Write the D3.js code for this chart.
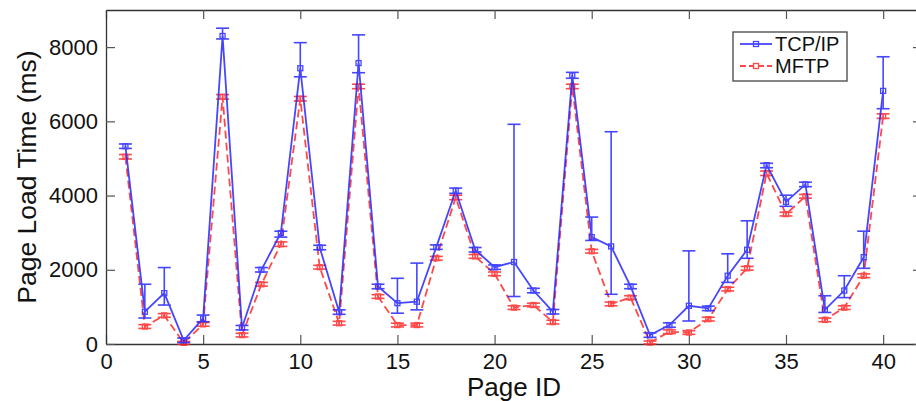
<!DOCTYPE html>
<html>
<head>
<meta charset="utf-8">
<script src="https://cdn.jsdelivr.net/npm/d3@7"></script>
<style>
  body { margin: 0; background: #fff; }
  svg { display: block; font-family: "Liberation Sans", Arial, Helvetica, sans-serif; }
  .axis path { stroke: #333; stroke-width: 1.3; }
  .axis line { stroke: #555; stroke-width: 1.2; }
  .axis text { font-size: 22px; fill: #111; }
</style>
</head>
<body>
<svg id="chart" width="916" height="401"></svg>
<script>
// page ids on the x axis
const pageIds = [1, 2, 3, 4, 5, 6, 7, 8, 9, 10, 11, 12, 13, 14, 15, 16, 17, 18, 19, 20,
  21, 22, 23, 24, 25, 26, 27, 28, 29, 30, 31, 32, 33, 34, 35, 36, 37, 38, 39, 40];

// TCP/IP mean load time and error bar range (ms)
const tcp = [5330, 870, 1370, 100, 690, 8300, 440, 2000, 2990, 7430, 2600, 860, 7570, 1550, 1100, 1140, 2610, 4130, 2540, 2070,
  2210, 1440, 870, 7240, 2880, 2630, 1550, 240, 510, 1030, 960, 1840, 2540, 4820, 3830, 4300, 920, 1440, 2340, 6820];
const tcpLo = [5270, 700, 1050, 40, 600, 8220, 380, 1940, 2880, 7200, 2540, 800, 7310, 1490, 830, 920, 2550, 4060, 2480, 2010,
  1280, 1380, 810, 7160, 2790, 1340, 1490, 180, 450, 620, 900, 1660, 2310, 4750, 3710, 4240, 850, 1250, 2040, 6340];
const tcpHi = [5390, 1610, 2060, 160, 780, 8510, 500, 2060, 3040, 8120, 2660, 920, 8330, 1610, 1770, 2180, 2670, 4200, 2600, 2130,
  5920, 1500, 930, 7320, 3420, 5720, 1610, 300, 570, 2510, 1020, 2430, 3320, 4870, 4010, 4360, 1300, 1840, 3040, 7740];

// MFTP mean load time and half error (ms)
const mftp = [5045, 470, 770, 30, 530, 6660, 240, 1610, 2690, 6610, 2070, 560, 6940, 1280, 510, 510, 2310, 3950, 2360, 1890,
  980, 1050, 590, 6940, 2500, 1080, 1250, 40, 330, 310, 670, 1480, 2040, 4600, 3500, 3980, 650, 980, 1840, 6140];
const mftpErr = [60, 50, 50, 40, 50, 60, 50, 50, 60, 60, 50, 50, 60, 50, 50, 50, 50, 60, 50, 50,
  50, 50, 50, 60, 50, 50, 50, 40, 50, 50, 50, 50, 50, 60, 50, 50, 50, 50, 50, 60];

const xTicks = [0, 5, 10, 15, 20, 25, 30, 35, 40];
const yTicks = [0, 2000, 4000, 6000, 8000];

const svg = d3.select('#chart');
const margin = {top: 10, right: 0, bottom: 57, left: 106};
const width = 816;
const height = 334;

const x = d3.scaleLinear().domain([0, 42]).range([0, width]);
const y = d3.scaleLinear().domain([0, 9000]).range([height, 0]);

const g = svg.append('g')
  .attr('transform', 'translate(' + margin.left + ',' + margin.top + ')');

// frame with inward ticks on all four sides
g.append('g')
  .attr('class', 'axis')
  .attr('transform', 'translate(0,' + height + ')')
  .call(d3.axisBottom(x).tickValues(xTicks).tickSizeInner(-9).tickSizeOuter(0).tickPadding(9));
g.append('g')
  .attr('class', 'axis')
  .call(d3.axisTop(x).tickValues(xTicks).tickSizeInner(-9).tickSizeOuter(0).tickFormat(''));
g.append('g')
  .attr('class', 'axis')
  .call(d3.axisLeft(y).tickValues(yTicks).tickFormat(d3.format('d'))
    .tickSizeInner(-9).tickSizeOuter(0).tickPadding(8));
g.append('g')
  .attr('class', 'axis')
  .attr('transform', 'translate(' + width + ',0)')
  .call(d3.axisRight(y).tickValues(yTicks).tickSizeInner(-9).tickSizeOuter(0).tickFormat(''));

const series = [
  {name: 'MFTP', color: '#ff2a2a', dash: '8,4', vals: mftp,
    lo: mftp.map((v, i) => v - mftpErr[i]), hi: mftp.map((v, i) => v + mftpErr[i])},
  {name: 'TCP/IP', color: '#2626ff', dash: null, vals: tcp, lo: tcpLo, hi: tcpHi}
];

const line = d3.line()
  .x(d => x(d[0]))
  .y(d => y(d[1]));

const cap = 6.5;

series.forEach(s => {
  const pts = pageIds.map((p, i) => [p, s.vals[i], s.lo[i], s.hi[i]]);
  const sg = g.append('g').attr('opacity', 0.85);

  sg.append('path')
    .datum(pts)
    .attr('fill', 'none')
    .attr('stroke', s.color)
    .attr('stroke-width', 1.8)
    .attr('stroke-dasharray', s.dash)
    .attr('d', line);

  const eb = sg.selectAll('.err')
    .data(pts)
    .enter().append('g')
    .attr('stroke', s.color)
    .attr('stroke-width', 1.6);
  eb.append('line')
    .attr('x1', d => x(d[0])).attr('x2', d => x(d[0]))
    .attr('y1', d => y(d[2])).attr('y2', d => y(d[3]));
  eb.append('line')
    .attr('x1', d => x(d[0]) - cap).attr('x2', d => x(d[0]) + cap)
    .attr('y1', d => y(d[2])).attr('y2', d => y(d[2]));
  eb.append('line')
    .attr('x1', d => x(d[0]) - cap).attr('x2', d => x(d[0]) + cap)
    .attr('y1', d => y(d[3])).attr('y2', d => y(d[3]));

  sg.selectAll('.mark')
    .data(pts)
    .enter().append('rect')
    .attr('x', d => x(d[0]) - 2.5)
    .attr('y', d => y(d[1]) - 2.5)
    .attr('width', 5)
    .attr('height', 5)
    .attr('fill', 'none')
    .attr('stroke', s.color)
    .attr('stroke-width', 1.3);
});

// axis titles
svg.append('text')
  .attr('x', margin.left + width / 2)
  .attr('y', 396)
  .attr('text-anchor', 'middle')
  .style('font-size', '26px')
  .attr('fill', '#111')
  .text('Page ID');

svg.append('text')
  .attr('transform', 'translate(36,' + (margin.top + height / 2) + ') rotate(-90)')
  .attr('text-anchor', 'middle')
  .style('font-size', '26.5px')
  .attr('fill', '#111')
  .text('Page Load Time (ms)');

// legend
const legend = svg.append('g').attr('transform', 'translate(733,32)');
legend.append('rect')
  .attr('width', 114)
  .attr('height', 49)
  .attr('fill', '#fff')
  .attr('stroke', '#444')
  .attr('stroke-width', 1.3);

series.slice().reverse().forEach((s, i) => {
  const ly = 12 + i * 22;
  const row = legend.append('g').attr('opacity', 0.85);
  row.append('line')
    .attr('x1', 7).attr('x2', 39)
    .attr('y1', ly).attr('y2', ly)
    .attr('stroke', s.color)
    .attr('stroke-width', 1.8)
    .attr('stroke-dasharray', s.dash ? '6,3' : null);
  row.append('rect')
    .attr('x', 20.5).attr('y', ly - 2.5)
    .attr('width', 5).attr('height', 5)
    .attr('fill', s.name === 'MFTP' ? '#fff' : 'none')
    .attr('stroke', s.color)
    .attr('stroke-width', 1.3);
  legend.append('text')
    .attr('x', 42)
    .attr('y', ly + 7)
    .style('font-size', '20px')
    .attr('fill', '#111')
    .text(s.name);
});
</script>
</body>
</html>
